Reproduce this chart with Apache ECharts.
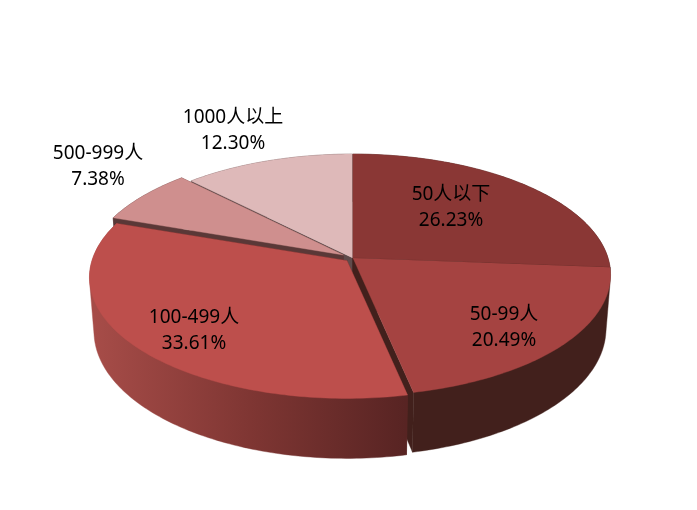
<!DOCTYPE html>
<html>
<head>
<meta charset="utf-8">
<style>html,body{margin:0;padding:0;background:#fff}#c{width:697px;height:510px}</style>
<script src="https://cdn.jsdelivr.net/npm/echarts@6/dist/echarts.min.js"></script>
</head>
<body>
<div id="c"></div>
<script>
const categories = ['50人以下', '50-99人', '100-499人', '500-999人', '1000人以上'];
const values = [26.23, 20.49, 33.61, 7.38, 12.30];

const explode = [0, 0, 8, 11.3, 0];
const paintOrder = [4, 3, 0, 1, 2];
const topColors = ['#8a3735', '#a54341', '#bd4f4c', '#cf8f8e', '#deb9b9'];
const sideColors = ['#431c19', '#42201c', '#5a2523', '#5a3837', '#5f4b4b'];
const labelOffsets = [[98, -50], [151, 70], [-159, 73], [-255, -91], [-120, -127]];
const CX = 353;
const topDisc = { cy: 258, a: 255, b: 118.5, k: 0.14 };
const baseDisc = { cy: 311, a: 250.5, b: 124.5, k: 0.14 };

const total = values.reduce((s, v) => s + v, 0);
const starts = [];
values.reduce((s, v, i) => { starts[i] = s; return s + v; }, 0);

function project(disc, theta, r, off) {
  const u = Math.sin(theta) * r, v = -Math.cos(theta) * r;
  const d = 1 - disc.k * v;
  return [CX + off[0] + disc.a * u / d, disc.cy + off[1] + disc.b * v / d];
}
function arc(disc, t0, t1, off) {
  const n = Math.max(2, Math.ceil(Math.abs(t1 - t0) / (Math.PI / 180)));
  const pts = [];
  for (let i = 0; i <= n; i++) pts.push(project(disc, t0 + (t1 - t0) * i / n, 1, off));
  return pts;
}
function hull(points) {
  const p = points.slice().sort((a, b) => a[0] - b[0] || a[1] - b[1]);
  const cross = (o, a, b) => (a[0] - o[0]) * (b[1] - o[1]) - (a[1] - o[1]) * (b[0] - o[0]);
  const half = list => {
    const h = [];
    list.forEach(q => {
      while (h.length > 1 && cross(h[h.length - 2], h[h.length - 1], q) <= 0) h.pop();
      h.push(q);
    });
    h.pop();
    return h;
  };
  return half(p).concat(half(p.slice().reverse()));
}
function sliceFaces(i) {
  const t0 = starts[i] / total * 2 * Math.PI;
  const t1 = (starts[i] + values[i]) / total * 2 * Math.PI;
  const mid = (t0 + t1) / 2;
  const off = [explode[i] * Math.sin(mid), -0.5 * explode[i] * Math.cos(mid)];
  const topApex = project(topDisc, 0, 0, off), baseApex = project(baseDisc, 0, 0, off);
  const topRim = arc(topDisc, t0, t1, off), baseRim = arc(baseDisc, t0, t1, off);
  const poly = (points, fill) => ({
    type: 'polygon', shape: { points },
    style: { fill, stroke: fill, lineWidth: 0.4 }
  });
  const wallFill = i === 2
    ? new echarts.graphic.LinearGradient(95, 0, 405, 0, [
        { offset: 0, color: '#a64c48' },
        { offset: 0.5, color: '#7f3633' },
        { offset: 1, color: '#582423' }
      ], true)
    : sideColors[i];
  return [
    poly([topApex, topRim[0], baseRim[0], baseApex], sideColors[i]),
    poly([topApex, topRim[topRim.length - 1], baseRim[baseRim.length - 1], baseApex], sideColors[i]),
    poly(hull(topRim.concat(baseRim)), wallFill),
    poly([topApex].concat(topRim), topColors[i])
  ];
}

const chart = echarts.init(document.getElementById('c'), null, { renderer: 'canvas' });
chart.setOption({
  animation: false,
  backgroundColor: '#ffffff',
  series: [
    {
      type: 'custom',
      coordinateSystem: 'none',
      silent: true,
      data: paintOrder.map(i => ({ name: categories[i], value: [i, values[i]] })),
      renderItem: (params, api) => ({ type: 'group', children: sliceFaces(api.value(0)) })
    },
    {
      type: 'custom',
      coordinateSystem: 'none',
      silent: true,
      z: 5,
      data: categories.map((c, i) => ({ name: c, value: [i, values[i]] })),
      renderItem: (params, api) => {
        const i = api.value(0);
        return {
          type: 'text',
          x: CX + labelOffsets[i][0],
          y: topDisc.cy + labelOffsets[i][1],
          style: {
            text: categories[i] + '\n' + values[i].toFixed(2) + '%',
            fill: '#000000',
            font: '19px "Noto Sans", "Noto Sans CJK SC", sans-serif',
            lineHeight: 26,
            align: 'center',
            verticalAlign: 'middle'
          }
        };
      }
    }
  ]
});
</script>
</body>
</html>
